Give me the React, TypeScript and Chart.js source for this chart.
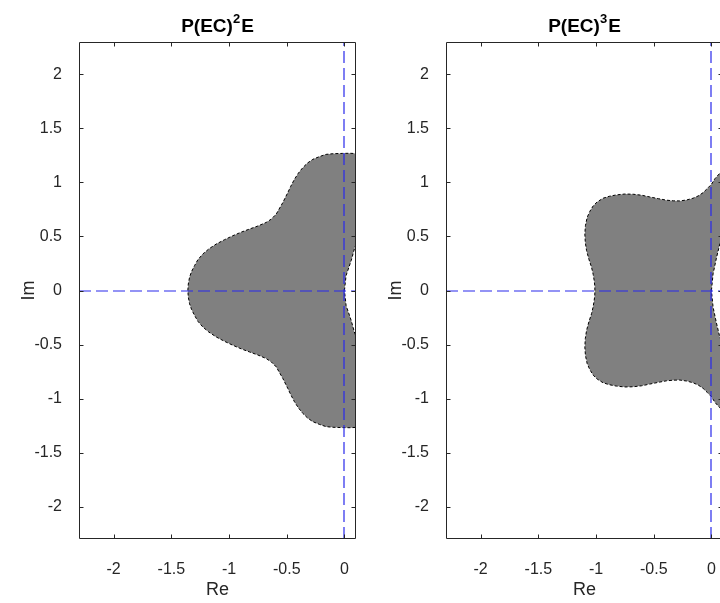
import React, { useEffect, useRef } from 'react';
import { Chart, registerables } from 'chart.js';

Chart.register(...registerables);

// ---------- data ----------
const X_MIN = -2.3;
const X_MAX = 0.1;
const Y_MIN = -2.3;
const Y_MAX = 2.3;

const xTickValues = [-2, -1.5, -1, -0.5, 0];
const yTickValues = [-2, -1.5, -1, -0.5, 0, 0.5, 1, 1.5, 2];

// panel titles: base, superscript, tail  ->  P(EC)^2E , P(EC)^3E
const titleBase = ['P(EC)', 'P(EC)'];
const titleSup = ['2', '3'];
const titleTail = ['E', 'E'];
const xAxisLabel = 'Re';
const yAxisLabel = 'Im';

// reference (axis) lines
const refLineRe = [0];
const refLineIm = [0];

// stability-region boundary, P(EC)^2E
const ec2Re = [
  0, 0.014, 0.058, 0.09, 0.14, 0.22, 0.27, 0.27, 0.22, 0.13, 0.05, -0.015, -0.1, -0.159, -0.215,
  -0.274, -0.32, -0.361, -0.4, -0.433, -0.465, -0.491, -0.534, -0.591, -0.635, -0.678, -0.75,
  -0.822, -0.895, -0.967, -1.04, -1.111, -1.175, -1.227, -1.27, -1.299, -1.325, -1.342, -1.353,
  -1.357,
  -1.353, -1.342, -1.325, -1.299, -1.27, -1.227, -1.175, -1.111, -1.04, -0.967, -0.895, -0.822,
  -0.75, -0.678, -0.635, -0.591, -0.534, -0.491, -0.465, -0.433, -0.4, -0.361, -0.32, -0.274,
  -0.215, -0.159, -0.1, -0.015, 0.05, 0.13, 0.22, 0.27, 0.27, 0.22, 0.14, 0.09, 0.058, 0.014, 0,
];
const ec2Im = [
  0, 0.138, 0.276, 0.4, 0.5, 0.62, 0.8, 1.0, 1.18, 1.265, 1.27, 1.269, 1.266, 1.26, 1.24,
  1.214, 1.18, 1.137, 1.085, 1.03, 0.965, 0.906, 0.814, 0.707, 0.66, 0.63, 0.597,
  0.569, 0.54, 0.507, 0.47, 0.43, 0.385, 0.338, 0.285, 0.23, 0.175, 0.123, 0.06,
  0,
  -0.06, -0.123, -0.175, -0.23, -0.285, -0.338, -0.385, -0.43, -0.47, -0.507, -0.54, -0.569,
  -0.597, -0.63, -0.66, -0.707, -0.814, -0.906, -0.965, -1.03, -1.085, -1.137, -1.18, -1.214,
  -1.24, -1.26, -1.266, -1.269, -1.27, -1.265, -1.18, -1.0, -0.8, -0.62, -0.5, -0.4, -0.276, -0.138, 0,
];

// stability-region boundary, P(EC)^3E
const ec3Re = [
  0, 0.014, 0.043, 0.072, 0.12, 0.2, 0.25, 0.22, 0.15, 0.072, 0.03, 0, -0.035, -0.072, -0.115,
  -0.159, -0.215, -0.274, -0.33, -0.39, -0.46, -0.534, -0.605, -0.679, -0.75, -0.823, -0.885,
  -0.939, -0.99, -1.025, -1.055, -1.077, -1.092, -1.097, -1.093, -1.082, -1.062, -1.039, -1.025,
  -1.016, -1.011, -1.01,
  -1.011, -1.016, -1.025, -1.039, -1.062, -1.082, -1.093, -1.097, -1.092, -1.077, -1.055, -1.025,
  -0.99, -0.939, -0.885, -0.823, -0.75, -0.679, -0.605, -0.534, -0.46, -0.39, -0.33, -0.274,
  -0.215, -0.159, -0.115, -0.072, -0.035, 0, 0.03, 0.072, 0.15, 0.22, 0.25, 0.2, 0.12, 0.072,
  0.043, 0.014, 0,
];
const ec3Im = [
  0, 0.154, 0.3, 0.43, 0.55, 0.68, 0.85, 1.02, 1.12, 1.085, 1.035, 0.983, 0.945, 0.906, 0.875,
  0.854, 0.838, 0.829, 0.83, 0.836, 0.85, 0.866, 0.882, 0.891, 0.893, 0.885, 0.872,
  0.854, 0.82, 0.783, 0.73, 0.676, 0.6, 0.523, 0.445, 0.369, 0.29, 0.215, 0.15,
  0.092, 0.045, 0,
  -0.045, -0.092, -0.15, -0.215, -0.29, -0.369, -0.445, -0.523, -0.6, -0.676, -0.73, -0.783,
  -0.82, -0.854, -0.872, -0.885, -0.893, -0.891, -0.882, -0.866, -0.85, -0.836, -0.83, -0.829,
  -0.838, -0.854, -0.875, -0.906, -0.945, -0.983, -1.035, -1.085, -1.12, -1.02, -0.85, -0.68,
  -0.55, -0.43, -0.3, -0.154, 0,
];

// ---------- rendering ----------
const FONT = '"Liberation Sans", Arial, Helvetica, sans-serif';
const AXIS_COLOR = '#262626';

const framePlugin = {
  id: 'matlabFrame',
  afterDatasetsDraw(chart: any) {
    const { ctx, chartArea: a, scales } = chart;
    const xs = scales.x;
    const ys = scales.y;
    const L = Math.round(a.left) + 0.5;
    const R = Math.round(a.right) - 0.5;
    const T = Math.round(a.top) + 0.5;
    const B = Math.round(a.bottom) - 0.5;

    // blue dashed reference lines
    ctx.save();
    ctx.beginPath();
    ctx.rect(a.left, a.top, a.right - a.left, a.bottom - a.top);
    ctx.clip();
    ctx.strokeStyle = 'rgb(40,40,235)';
    ctx.lineWidth = 1.2;
    ctx.setLineDash([12, 5]);
    refLineRe.forEach((v) => {
      const px = Math.round(xs.getPixelForValue(v));
      ctx.beginPath();
      ctx.moveTo(px, a.bottom);
      ctx.lineTo(px, a.top);
      ctx.stroke();
    });
    refLineIm.forEach((v) => {
      const py = Math.round(ys.getPixelForValue(v));
      ctx.beginPath();
      ctx.moveTo(a.left, py);
      ctx.lineTo(a.right, py);
      ctx.stroke();
    });
    ctx.restore();

    // axes box + inward ticks
    ctx.save();
    ctx.strokeStyle = AXIS_COLOR;
    ctx.lineWidth = 1;
    ctx.setLineDash([]);
    ctx.beginPath();
    ctx.rect(L, T, R - L, B - T);
    ctx.stroke();
    const TL = 4;
    ctx.beginPath();
    xTickValues.forEach((v) => {
      const px = Math.round(xs.getPixelForValue(v)) + 0.5;
      ctx.moveTo(px, B);
      ctx.lineTo(px, B - TL);
      ctx.moveTo(px, T);
      ctx.lineTo(px, T + TL);
    });
    yTickValues.forEach((v) => {
      const py = Math.round(ys.getPixelForValue(v)) + 0.5;
      ctx.moveTo(L, py);
      ctx.lineTo(L + TL, py);
      ctx.moveTo(R, py);
      ctx.lineTo(R - TL, py);
    });
    ctx.stroke();
    ctx.restore();
  },
};

function makeTitlePlugin(base: string, sup: string, tail: string) {
  return {
    id: 'richTitle',
    afterDraw(chart: any) {
      const { ctx, chartArea: a } = chart;
      const mainFont = `bold 19px ${FONT}`;
      const supFont = `bold 13px ${FONT}`;
      ctx.save();
      ctx.fillStyle = '#000000';
      ctx.textBaseline = 'alphabetic';
      ctx.textAlign = 'left';
      ctx.font = mainFont;
      const wBase = ctx.measureText(base).width;
      const wTail = ctx.measureText(tail).width;
      ctx.font = supFont;
      const wSup = ctx.measureText(sup).width;
      const total = wBase + wSup + 1 + wTail;
      let x = (a.left + a.right) / 2 - total / 2;
      const baseline = 31.5;
      ctx.font = mainFont;
      ctx.fillText(base, x, baseline);
      x += wBase;
      ctx.font = supFont;
      ctx.fillText(sup, x, baseline - 9);
      x += wSup + 1;
      ctx.font = mainFont;
      ctx.fillText(tail, x, baseline);
      ctx.restore();
    },
  };
}

function Panel(props: { idx: number; re: number[]; im: number[]; left: number }) {
  const ref = useRef<HTMLCanvasElement>(null);
  useEffect(() => {
    const canvas = ref.current;
    if (!canvas) return;
    const chart = new Chart(canvas, {
      type: 'scatter',
      data: {
        datasets: [
          {
            data: props.re.map((x, i) => ({ x, y: props.im[i] })),
            showLine: true,
            fill: 'shape',
            backgroundColor: '#808080',
            borderColor: '#000000',
            borderWidth: 1,
            borderDash: [3, 2],
            pointRadius: 0,
            pointHoverRadius: 0,
            tension: 0,
          } as any,
        ],
      },
      options: {
        responsive: false,
        animation: false,
        events: [],
        layout: { padding: { left: 0, right: 44, top: 42, bottom: 0 } },
        plugins: {
          legend: { display: false },
          tooltip: { enabled: false },
          title: { display: false },
        },
        scales: {
          x: {
            type: 'linear',
            position: 'bottom',
            min: X_MIN,
            max: X_MAX,
            grid: { display: false },
            border: { display: false },
            afterBuildTicks: (s: any) => {
              s.ticks = xTickValues.map((v) => ({ value: v }));
            },
            afterFit: (s: any) => {
              s.height = 64;
            },
            ticks: {
              padding: 13,
              color: AXIS_COLOR,
              font: { family: FONT, size: 16 },
              maxRotation: 0,
              autoSkip: false,
              callback: (v: any) => String(v),
            },
            title: {
              display: true,
              text: xAxisLabel,
              color: AXIS_COLOR,
              font: { family: FONT, size: 18 },
              padding: { top: 0, bottom: 2.5 },
            },
          },
          y: {
            type: 'linear',
            min: Y_MIN,
            max: Y_MAX,
            grid: { display: false },
            border: { display: false },
            afterBuildTicks: (s: any) => {
              s.ticks = yTickValues.map((v) => ({ value: v }));
            },
            afterFit: (s: any) => {
              s.width = 79;
            },
            ticks: {
              padding: 9,
              color: AXIS_COLOR,
              font: { family: FONT, size: 16 },
              autoSkip: false,
              callback: (v: any) => String(v),
            },
            title: {
              display: true,
              text: yAxisLabel,
              color: AXIS_COLOR,
              font: { family: FONT, size: 18 },
              padding: { top: 18, bottom: 0 },
            },
          },
        },
      } as any,
      plugins: [framePlugin, makeTitlePlugin(titleBase[props.idx], titleSup[props.idx], titleTail[props.idx])],
    });
    return () => chart.destroy();
  }, []);
  return (
    <canvas
      ref={ref}
      width={400}
      height={603}
      style={{ position: 'absolute', left: props.left, top: 0, width: 400, height: 603, display: 'block' }}
    />
  );
}

export default function App() {
  return (
    <div
      style={{
        position: 'absolute',
        left: 0,
        top: 0,
        width: 720,
        height: 603,
        overflow: 'hidden',
        background: '#ffffff',
      }}
    >
      <Panel idx={0} re={ec2Re} im={ec2Im} left={0} />
      <Panel idx={1} re={ec3Re} im={ec3Im} left={367} />
    </div>
  );
}
